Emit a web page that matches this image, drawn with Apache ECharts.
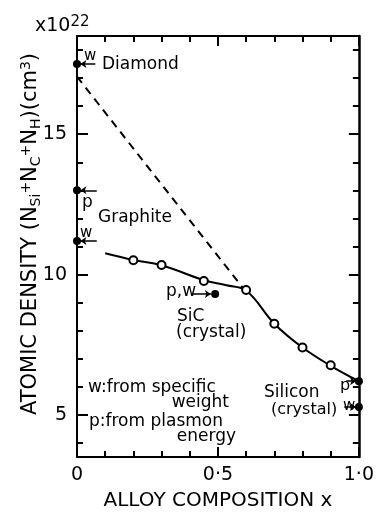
<!DOCTYPE html>
<html>
<head>
<meta charset="utf-8">
<script src="https://cdn.jsdelivr.net/npm/echarts@6/dist/echarts.min.js"></script>
<style>
html,body{margin:0;padding:0;background:#fff;}
#c{width:377px;height:516px;}
</style>
</head>
<body>
<div id="c"></div>
<script>
// ---- data (x = alloy composition, y = atomic density in 1e22 cm^-3) ----
const X_MIN = 0, X_MAX = 1;
const Y_MIN = 3.5, Y_MAX = 18.5;
const X_LABEL_VALUES = [0, 0.5, 1];
const X_LABEL_TEXTS = ['0', '0·5', '1·0'];
const Y_MAJOR = [5, 10, 15];
const Y_MINOR = [4, 6, 7, 8, 9, 11, 12, 13, 14, 16, 17, 18];

// open circles (measured)
const openX = [0.2, 0.3, 0.45, 0.6, 0.7, 0.8, 0.9];
const openY = [10.51, 10.34, 9.77, 9.45, 8.25, 7.40, 6.77];

// solid fitted curve
const curveX = [0.1, 0.2, 0.3, 0.45, 0.53, 0.6, 0.7, 0.8, 0.9, 1.0];
const curveY = [10.76, 10.52, 10.33, 9.8, 9.62, 9.43, 8.25, 7.4, 6.75, 6.2];

// dashed line (diamond -> SiC)
const dashX = [0, 0.6];
const dashY = [17.05, 9.38];

// reference (filled) points: Diamond w, Graphite p, Graphite w, SiC p,w, Si p, Si w
const refNames = ['Diamond w', 'Graphite p', 'Graphite w', 'SiC p,w', 'Silicon p', 'Silicon w'];
const refX = [0, 0, 0, 0.49, 1.0, 1.0];
const refY = [17.5, 13.0, 11.2, 9.31, 6.2, 5.28];

// arrows pointing to reference points: [fromX, toX, y]
const arrowFromX = [0.065, 0.07, 0.07, 0.41, 0.955, 0.948];
const arrowToX   = [0.012, 0.012, 0.012, 0.475, 0.99, 0.99];
const arrowY     = [17.5, 13.0, 11.2, 9.31, 6.2, 5.28];

const zip = (a, b) => a.map((v, i) => [v, b[i]]);

const FONT = '"DejaVu Sans", sans-serif';
const chart = echarts.init(document.getElementById('c'), null, {renderer: 'canvas'});

function txt(text, x, y, size, align, extra) {
  return Object.assign({
    type: 'text', x: x, y: y, z: 100,
    style: {text: text, font: size + 'px ' + FONT, fill: '#000', align: align || 'left', verticalAlign: 'middle'}
  }, extra || {});
}

const option = {
  animation: false,
  backgroundColor: '#fff',
  grid: {left: 77, right: 12, top: 36, bottom: 55, containLabel: false},
  xAxis: [
    {
      type: 'value', position: 'bottom', min: X_MIN, max: X_MAX, interval: 0.5,
      axisLine: {show: true, lineStyle: {color: '#000', width: 2}},
      axisTick: {show: true, inside: true, length: 10, lineStyle: {color: '#000', width: 2}},
      minorTick: {show: true, splitNumber: 5, length: 6, lineStyle: {color: '#000', width: 2}},
      splitLine: {show: false}, minorSplitLine: {show: false},
      axisLabel: {
        fontSize: 19, fontFamily: FONT, color: '#000', margin: 9,
        formatter: v => { const i = X_LABEL_VALUES.findIndex(t => Math.abs(t - v) < 1e-6); return i >= 0 ? X_LABEL_TEXTS[i] : ''; }
      },
      name: 'ALLOY COMPOSITION x', nameLocation: 'middle', nameGap: 34,
      nameTextStyle: {fontSize: 20, fontFamily: FONT, color: '#000'}
    },
    {
      type: 'value', position: 'top', min: X_MIN, max: X_MAX, interval: 0.5,
      axisLine: {show: true, lineStyle: {color: '#000', width: 2}},
      axisTick: {show: true, inside: true, length: 10, lineStyle: {color: '#000', width: 2}},
      minorTick: {show: true, splitNumber: 5, length: 6, lineStyle: {color: '#000', width: 2}},
      splitLine: {show: false}, axisLabel: {show: false}
    }
  ],
  yAxis: [
    {
      type: 'value', position: 'left', min: Y_MIN, max: Y_MAX,
      axisLine: {show: true, lineStyle: {color: '#000', width: 2}},
      axisTick: {show: true, inside: true, length: 11, customValues: Y_MAJOR, lineStyle: {color: '#000', width: 2}},
      axisLabel: {show: true, customValues: Y_MAJOR, fontSize: 19, fontFamily: FONT, color: '#000', margin: 10},
      splitLine: {show: false}
    },
    {
      type: 'value', position: 'left', min: Y_MIN, max: Y_MAX,
      axisLine: {show: false},
      axisTick: {show: true, inside: true, length: 6, customValues: Y_MINOR, lineStyle: {color: '#000', width: 2}},
      axisLabel: {show: false}, splitLine: {show: false}
    },
    {
      type: 'value', position: 'right', min: Y_MIN, max: Y_MAX,
      axisLine: {show: true, lineStyle: {color: '#000', width: 2.5}},
      axisTick: {show: true, inside: true, length: 6, customValues: Y_MINOR, lineStyle: {color: '#000', width: 2}},
      axisLabel: {show: false}, splitLine: {show: false}
    },
    {
      type: 'value', position: 'right', min: Y_MIN, max: Y_MAX,
      axisLine: {show: false},
      axisTick: {show: true, inside: true, length: 10, customValues: Y_MAJOR, lineStyle: {color: '#000', width: 2}},
      axisLabel: {show: false}, splitLine: {show: false}
    }
  ],
  series: [
    {
      type: 'line', name: 'fit', data: zip(curveX, curveY), smooth: 0.4,
      showSymbol: false, symbol: 'none', clip: false,
      lineStyle: {color: '#000', width: 2}
    },
    {
      type: 'line', name: 'dashed', data: zip(dashX, dashY), showSymbol: false, symbol: 'none', clip: false,
      lineStyle: {color: '#000', width: 2, type: [8, 6]}
    },
    {
      type: 'scatter', name: 'measured', data: zip(openX, openY), symbol: 'circle', symbolSize: 8, clip: false, z: 5,
      itemStyle: {color: '#fff', borderColor: '#000', borderWidth: 2, opacity: 1}
    },
    {
      type: 'scatter', name: 'reference', data: refX.map((x, i) => ({name: refNames[i], value: [x, refY[i]]})),
      symbol: 'circle', symbolSize: 8, clip: false, z: 6,
      itemStyle: {color: '#000', opacity: 1}
    },
    {
      type: 'lines', coordinateSystem: 'cartesian2d', z: 4,
      data: arrowY.map((y, i) => ({coords: [[arrowFromX[i], y], [arrowToX[i], y]]})),
      symbol: ['none', 'arrow'], symbolSize: 6,
      lineStyle: {color: '#000', width: 1.5, opacity: 1}
    }
  ],
  graphic: [
    // y axis title (rotated)
    {
      type: 'text', x: 31, y: 234, rotation: Math.PI / 2, z: 100,
      style: {
        text: 'ATOMIC DENSITY (N{sub|Si}{sup|+}N{sub|C}{sup|+}N{sub|H})(cm{sup|3})',
        font: '21px ' + FONT, fill: '#000', align: 'center', verticalAlign: 'middle',
        rich: {
          sub: {font: '14px ' + FONT, fill: '#000', verticalAlign: 'bottom', padding: [10, 0, 0, 0]},
          sup: {font: '14px ' + FONT, fill: '#000', verticalAlign: 'top', padding: [0, 0, 8, 0]}
        }
      }
    },
    // x10^22
    {
      type: 'text', x: 35, y: 26, z: 100,
      style: {
        text: 'x10{sup|22}', font: '19px ' + FONT, fill: '#000', align: 'left', verticalAlign: 'middle',
        rich: {sup: {font: '15px ' + FONT, fill: '#000', verticalAlign: 'top', padding: [0, 0, 8, 0]}}
      }
    },
    txt('w', 84, 56, 15),
    txt('Diamond', 102, 65, 17),
    txt('p', 82, 203, 17),
    txt('Graphite', 98, 218, 17),
    txt('w', 80, 233, 15),
    txt('p,w', 166, 292, 17),
    txt('SiC', 177, 317, 17),
    txt('(crystal)', 176, 333, 17),
    txt('Silicon', 264, 393, 17),
    txt('(crystal)', 271, 410, 16),
    txt('p', 340, 386, 16),
    txt('w', 343, 406, 15),
    txt('w:from specific', 88, 388, 17),
    txt('weight', 229, 403, 17, 'right'),
    txt('p:from plasmon', 89, 422, 17),
    txt('energy', 236, 437, 17, 'right')
  ]
};
chart.setOption(option);
</script>
</body>
</html>
